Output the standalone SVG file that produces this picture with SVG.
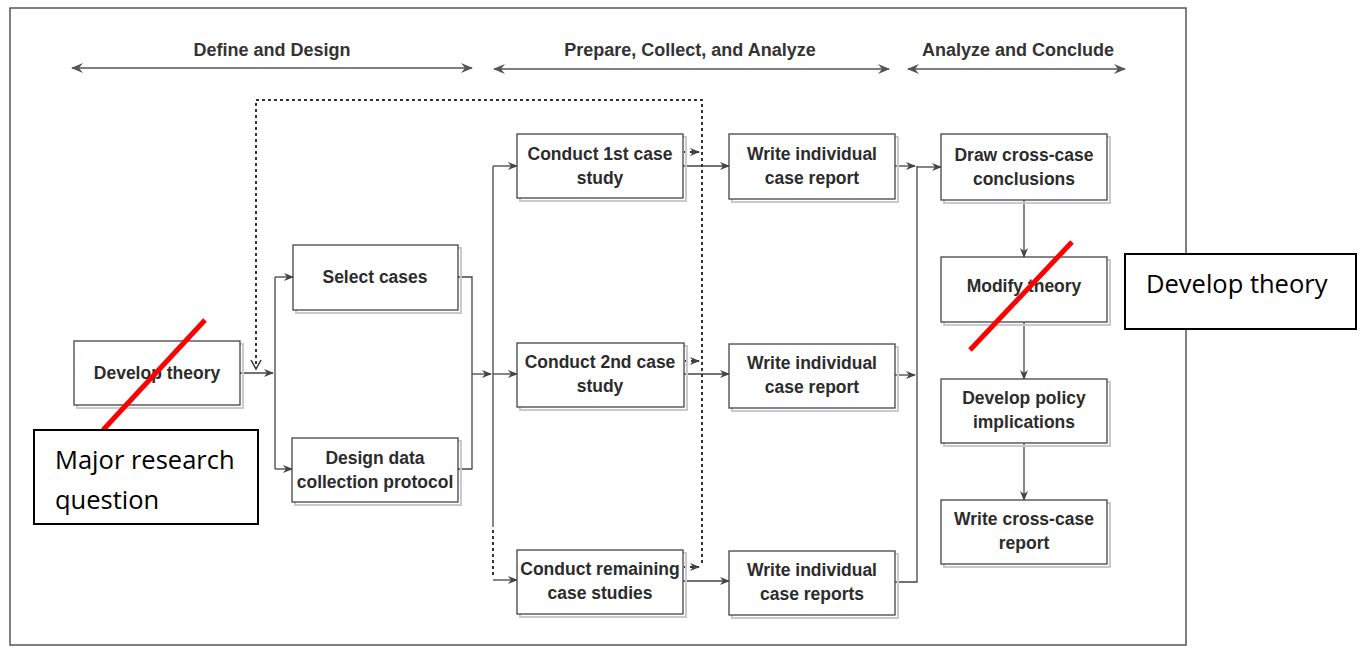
<svg xmlns="http://www.w3.org/2000/svg" width="1362" height="648" viewBox="0 0 1362 648">
<style>
.bx{fill:#fff;stroke:#444;stroke-width:1.3}
.sh{fill:none;stroke:#c9c9d2;stroke-width:2}
.t{font-family:"Liberation Sans",Arial,sans-serif;font-weight:bold;font-size:17.5px;fill:#2c2c2c;text-anchor:middle}
.h{font-family:"Liberation Sans",Arial,sans-serif;font-weight:bold;font-size:18px;fill:#333;text-anchor:middle}
.c{fill:none;stroke:#444;stroke-width:1.3}
.d{fill:none;stroke:#333;stroke-width:2;stroke-dasharray:3,3}
.ha{fill:none;stroke:#555;stroke-width:1.6}
.cb{fill:#fff;stroke:#000;stroke-width:2}
.ct{font-family:"Open Sans","Noto Sans",sans-serif;font-size:25.5px;fill:#000}
.red{stroke:#f00;stroke-width:5;fill:none}
</style>
<defs>
<marker id="ar" markerWidth="10" markerHeight="8" refX="9" refY="4" orient="auto" markerUnits="userSpaceOnUse">
<path d="M0,0 L10,4 L0,8 L3,4 z" fill="#444"/>
</marker>
<marker id="ah" markerWidth="12" markerHeight="10" refX="11" refY="5" orient="auto-start-reverse" markerUnits="userSpaceOnUse">
<path d="M0,0 L12,5 L0,10 L4,5 z" fill="#555"/>
</marker>
</defs>
<rect width="1362" height="648" fill="#fff"/>
<rect x="10" y="8" width="1176" height="637" fill="none" stroke="#555" stroke-width="1.5"/>

<g id="headers">
<text class="h" x="272" y="56">Define and Design</text>
<line class="ha" x1="72" y1="68" x2="472" y2="68" marker-start="url(#ah)" marker-end="url(#ah)"/>
<text class="h" x="690" y="56">Prepare, Collect, and Analyze</text>
<line class="ha" x1="494" y1="69" x2="889" y2="69" marker-start="url(#ah)" marker-end="url(#ah)"/>
<text class="h" x="1018" y="56">Analyze and Conclude</text>
<line class="ha" x1="908" y1="69" x2="1125" y2="69" marker-start="url(#ah)" marker-end="url(#ah)"/>
</g>

<g id="connectors">
<line class="c" x1="240" y1="373" x2="273" y2="373" marker-end="url(#ar)"/>
<line class="c" x1="275" y1="277" x2="275" y2="469"/>
<line class="c" x1="275" y1="277" x2="293" y2="277" marker-end="url(#ar)"/>
<line class="c" x1="275" y1="469" x2="292" y2="469" marker-end="url(#ar)"/>
<polyline class="c" points="458,277 472,277 472,469 458,469"/>
<line class="c" x1="472" y1="374" x2="491" y2="374" marker-end="url(#ar)"/>
<line class="c" x1="493" y1="166" x2="493" y2="527"/>
<line class="d" x1="493" y1="530" x2="493" y2="578" stroke-width="1.5"/>
<line class="c" x1="493" y1="166" x2="517" y2="166" marker-end="url(#ar)"/>
<line class="c" x1="493" y1="374" x2="517" y2="374" marker-end="url(#ar)"/>
<line class="c" x1="493" y1="580" x2="517" y2="580" marker-end="url(#ar)"/>
<line class="c" x1="683" y1="166" x2="729" y2="166" marker-end="url(#ar)"/>
<line class="c" x1="684" y1="374" x2="729" y2="374" marker-end="url(#ar)"/>
<line class="c" x1="683" y1="581" x2="729" y2="581" marker-end="url(#ar)"/>
<polyline class="d" points="702,563 702,100 256,100 256,368"/>
<path d="M251,360 L256,369 L261,360" fill="none" stroke="#333" stroke-width="1.5"/>
<line class="d" x1="684" y1="152" x2="699" y2="152" stroke-width="1.5" marker-end="url(#ar)"/>
<line class="d" x1="685" y1="361" x2="699" y2="361" stroke-width="1.5" marker-end="url(#ar)"/>
<line class="d" x1="684" y1="567" x2="699" y2="567" stroke-width="1.5" marker-end="url(#ar)"/>
<line class="c" x1="895" y1="166" x2="915" y2="166" marker-end="url(#ar)"/>
<line class="c" x1="895" y1="375" x2="915" y2="375" marker-end="url(#ar)"/>
<polyline class="c" points="895,582 917,582 917,166"/>
<line class="c" x1="917" y1="167" x2="941" y2="167" marker-end="url(#ar)"/>
<line class="c" x1="1024" y1="200" x2="1024" y2="257" marker-end="url(#ar)"/>
<line class="c" x1="1024" y1="322" x2="1024" y2="379" marker-end="url(#ar)"/>
<line class="c" x1="1024" y1="443" x2="1024" y2="500" marker-end="url(#ar)"/>
</g>

<g id="develop-theory">
<rect class="sh" x="77" y="344" width="166" height="64"/>
<rect class="bx" x="74" y="341" width="166" height="64"/>
<text class="t" x="157" y="379">Develop theory</text>
</g>
<g id="select-cases">
<rect class="sh" x="296" y="248" width="165" height="65"/>
<rect class="bx" x="293" y="245" width="165" height="65"/>
<text class="t" x="375" y="283">Select cases</text>
</g>
<g id="design-protocol">
<rect class="sh" x="295" y="441" width="166" height="64"/>
<rect class="bx" x="292" y="438" width="166" height="64"/>
<text class="t" x="375" y="464">Design data</text>
<text class="t" x="375" y="488">collection protocol</text>
</g>
<g id="conduct-1st">
<rect class="sh" x="520" y="137" width="166" height="64"/>
<rect class="bx" x="517" y="134" width="166" height="64"/>
<text class="t" x="600" y="160">Conduct 1st case</text>
<text class="t" x="600" y="184">study</text>
</g>
<g id="conduct-2nd">
<rect class="sh" x="520" y="346" width="167" height="64"/>
<rect class="bx" x="517" y="343" width="167" height="64"/>
<text class="t" x="600" y="368">Conduct 2nd case</text>
<text class="t" x="600" y="392">study</text>
</g>
<g id="conduct-remaining">
<rect class="sh" x="520" y="553" width="166" height="64"/>
<rect class="bx" x="517" y="550" width="166" height="64"/>
<text class="t" x="600" y="575">Conduct remaining</text>
<text class="t" x="600" y="599">case studies</text>
</g>
<g id="write-1">
<rect class="sh" x="732" y="137" width="166" height="65"/>
<rect class="bx" x="729" y="134" width="166" height="65"/>
<text class="t" x="812" y="160">Write individual</text>
<text class="t" x="812" y="184">case report</text>
</g>
<g id="write-2">
<rect class="sh" x="732" y="347" width="166" height="64"/>
<rect class="bx" x="729" y="344" width="166" height="64"/>
<text class="t" x="812" y="369">Write individual</text>
<text class="t" x="812" y="393">case report</text>
</g>
<g id="write-3">
<rect class="sh" x="732" y="554" width="166" height="64"/>
<rect class="bx" x="729" y="551" width="166" height="64"/>
<text class="t" x="812" y="576">Write individual</text>
<text class="t" x="812" y="600">case reports</text>
</g>
<g id="draw-conclusions">
<rect class="sh" x="944" y="137" width="166" height="66"/>
<rect class="bx" x="941" y="134" width="166" height="66"/>
<text class="t" x="1024" y="161">Draw cross-case</text>
<text class="t" x="1024" y="185">conclusions</text>
</g>
<g id="modify-theory">
<rect class="sh" x="944" y="260" width="166" height="65"/>
<rect class="bx" x="941" y="257" width="166" height="65"/>
<text class="t" x="1024" y="292">Modify theory</text>
</g>
<g id="policy">
<rect class="sh" x="944" y="382" width="166" height="64"/>
<rect class="bx" x="941" y="379" width="166" height="64"/>
<text class="t" x="1024" y="404">Develop policy</text>
<text class="t" x="1024" y="428">implications</text>
</g>
<g id="cross-case-report">
<rect class="sh" x="944" y="503" width="166" height="64"/>
<rect class="bx" x="941" y="500" width="166" height="64"/>
<text class="t" x="1024" y="525">Write cross-case</text>
<text class="t" x="1024" y="549">report</text>
</g>

<g id="annotations">
<line class="red" x1="205" y1="320" x2="103" y2="430"/>
<line class="red" x1="1072" y1="242" x2="970" y2="350"/>
<rect class="cb" x="34" y="430" width="224" height="94"/>
<text class="ct" x="55" y="469">Major research</text>
<text class="ct" x="55" y="509">question</text>
<rect class="cb" x="1125" y="254" width="231" height="75"/>
<text class="ct" x="1146" y="293">Develop theory</text>
</g>
</svg>
